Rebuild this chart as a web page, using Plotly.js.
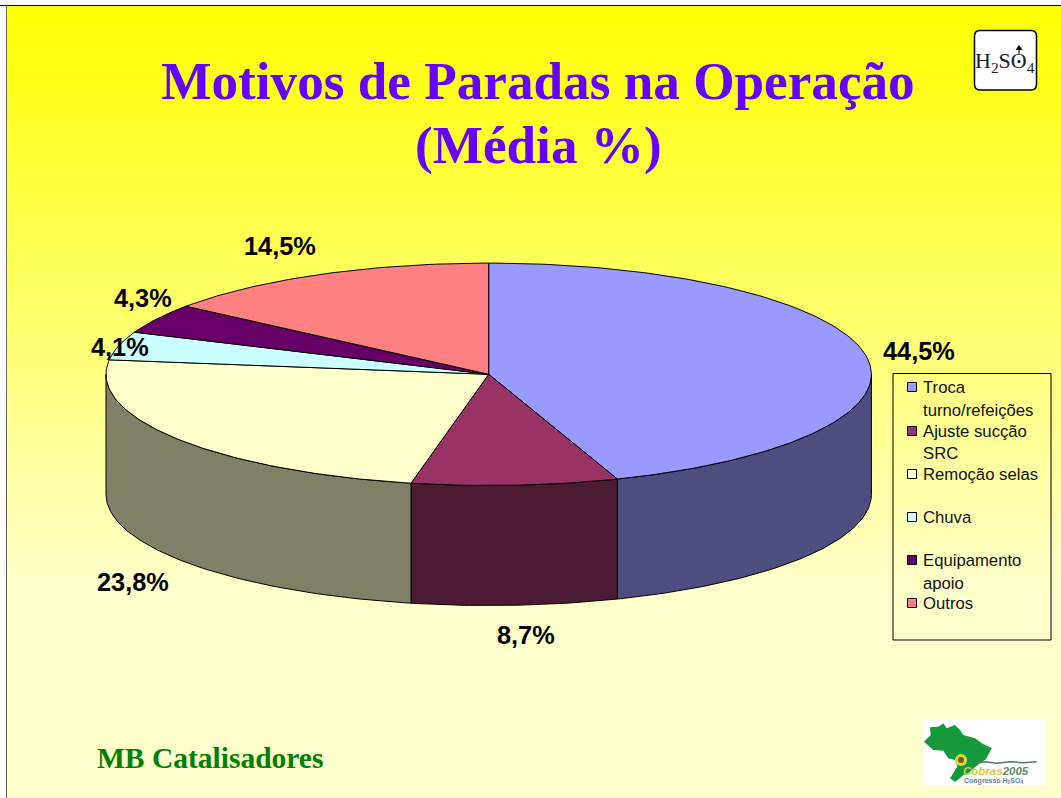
<!DOCTYPE html>
<html><head><meta charset="utf-8">
<script src="https://cdn.plot.ly/plotly-3.0.1.min.js"></script>
<style>html,body{margin:0;padding:0;background:#fff;overflow:hidden}#c{width:1061px;height:798px}</style>
</head><body><div id="c"></div>
<script>
const categories = ["Troca turno/refeições","Ajuste sucção SRC","Remoção selas","Chuva","Equipamento apoio","Outros"];
const values = [44.5,8.7,23.8,4.1,4.3,14.5];
const valueLabels = ["44,5%","8,7%","23,8%","4,1%","4,3%","14,5%"];
const topColors = ["#9999FF","#993366","#FFFFCC","#CCFFFF","#660066","#FF8080"];
const sideColors = ["#4D4D80","#4D1A33","#808066","#668080","#330033","#804040"];
const labelX = [918.5,525.5,132.5,119.5,142.5,280];
const labelY = [351,635,582,347,298,246];
const legendLines = [["Troca","turno/refeições"],["Ajuste sucção","SRC"],["Remoção selas"],["Chuva"],["Equipamento","apoio"],["Outros"]];
const legendLineY = [[387,410],[431,453],[474],[517],[560,583],[603]];
const legendMarkY = [387,431,474,517,560,603];

const cx=488.7, cy=374.3, rx=382.7, ry=111.2, depth=120;
const pt=(deg,dy)=>[cx+rx*Math.sin(deg*Math.PI/180), cy-ry*Math.cos(deg*Math.PI/180)+(dy||0)];
function arc(a,b,dy){const n=Math.max(2,Math.ceil(Math.abs(b-a)));const o=[];for(let i=0;i<=n;i++)o.push(pt(a+(b-a)*i/n,dy));return o;}
const traces=[];
traces.push({type:'scatter',mode:'none',x:[6,1062,1062,6,6],y:[5,5,799,799,5],fill:'toself',
  fillgradient:{type:'vertical',start:5,stop:590,colorscale:[[0,'#FFFF00'],[1,'#FFFFCC']]},hoverinfo:'skip',showlegend:false});
function poly(pts,fill,w){traces.push({type:'scatter',mode:'lines',x:pts.map(p=>p[0]),y:pts.map(p=>p[1]),fill:'toself',fillcolor:fill,
  line:{color:'#000',width:w===undefined?1:w},hoverinfo:'skip',showlegend:false,cliponaxis:false});}
const total=values.reduce((a,b)=>a+b,0);
let acc=0; const spans=values.map(v=>{const s=[acc,acc+v/total*360];acc=s[1];return s;});
spans.forEach((s,i)=>{const a=Math.max(s[0],90),b=Math.min(s[1],270);if(b<=a)return;
  const t=arc(a,b,0),bt=arc(b,a,depth);const p=t.concat(bt);p.push(t[0]);poly(p,sideColors[i]);});
spans.forEach((s,i)=>{const p=[[cx,cy]].concat(arc(s[0],s[1],0));p.push([cx,cy]);poly(p,topColors[i]);});
traces.push({type:'scatter',mode:'markers',x:legendMarkY.map(()=>912),y:legendMarkY,
  marker:{symbol:'square',size:9,color:topColors,line:{color:'#000',width:1}},hoverinfo:'skip',showlegend:false});

const annotations=[];
const txt=(x,y,text,size,color,family,anchor)=>annotations.push({x,y,xref:'x',yref:'y',text,showarrow:false,
  font:{size,color,family},xanchor:anchor||'center',yanchor:'middle',borderpad:0,borderwidth:0});
const SANS='"Liberation Sans",Arial,sans-serif', SERIF='"Liberation Serif","Times New Roman",serif';
valueLabels.forEach((t,i)=>txt(labelX[i],labelY[i],'<b>'+t+'</b>',25.3,'#000',SANS));
legendLines.forEach((ls,i)=>ls.forEach((l,j)=>txt(923,legendLineY[i][j],l,16.7,'#111',SANS,'left')));
txt(538,145,'<b>(Média %)</b>',53.2,'#6600FF',SERIF);
txt(97,758,'<b>MB Catalisadores</b>',29.5,'#008000',SERIF,'left');
txt(1005,62,'H<sub>2</sub>SO<sub>4</sub>',22,'#222',SERIF);
txt(996,771,'<b><i><span style="color:#D6C83A">Cobras</span><span style="color:#5F8A6B">2005</span></i></b>',11.5,'#5F8A6B',SANS);
txt(993,781,'<b>Congresso H<sub>2</sub>SO<sub>4</sub></b>',7,'#5F7FA8',SANS);

const m=(zx,zy)=>(910+zx/3).toFixed(1)+','+(710+zy/3).toFixed(1);
const brazilZ=[[42,95],[62,75],[60,52],[85,50],[100,40],[110,55],[135,45],[150,60],[160,75],[195,85],[215,100],[245,115],[228,148],[210,160],[195,172],[175,190],[160,195],[150,205],[135,215],[120,205],[130,190],[142,170],[135,150],[115,145],[100,122],[70,120]];
const brazil='M'+brazilZ.map(p=>m(p[0],p[1])).join('L')+'Z';
const waveZ=[[195,160],[225,155],[260,160],[300,155],[340,158],[380,155]];
const wave='M'+waveZ.map(p=>m(p[0],p[1])).join('L');
const shapes=[
 {type:'line',x0:0,x1:1061,y0:5.5,y1:5.5,line:{color:'#000',width:1}},
 {type:'line',x0:6.5,x1:6.5,y0:5,y1:798,line:{color:'#666',width:1}},
 {type:'rect',x0:893,x1:1051,y0:373.5,y1:640,line:{color:'#000',width:1},fillcolor:'rgba(0,0,0,0)'},
 {type:'path',path:'M980,30.5 L1031,30.5 Q1036.5,30.5 1036.5,36 L1036.5,84 Q1036.5,90 1031,90 L980,90 Q974.5,90 974.5,84 L974.5,36 Q974.5,30.5 980,30.5 Z',fillcolor:'#fff',line:{color:'#000',width:1.5}},
 {type:'circle',x0:1017.5,x1:1020.5,y0:60,y1:63,fillcolor:'#000',line:{width:0}},
 {type:'line',x0:1019,x1:1019,y0:48,y1:54,line:{color:'#000',width:1}},
 {type:'path',path:'M1019,45 L1022.5,50 L1015.5,50 Z',fillcolor:'#000',line:{width:0}},
 {type:'rect',x0:923,x1:1046,y0:720,y1:785,fillcolor:'#fff',line:{width:0}},
 {type:'path',path:brazil,fillcolor:'#149A3C',line:{color:'#149A3C',width:0}},
 {type:'circle',x0:955,x1:967,y0:754,y1:766,fillcolor:'#D9D82E',line:{width:0}},
 {type:'circle',x0:958,x1:964,y0:757,y1:763,fillcolor:'#7A5A20',line:{width:0}},
 {type:'path',path:wave,line:{color:'#4F7A5C',width:1.5}}
];
const layout={width:1061,height:798,margin:{l:0,r:0,t:0,b:0,pad:0},paper_bgcolor:'#fff',plot_bgcolor:'rgba(0,0,0,0)',showlegend:false,
  xaxis:{range:[0,1061],visible:false,fixedrange:true},
  yaxis:{range:[798,0],visible:false,fixedrange:true},
  title:{text:'<b>Motivos de Paradas na Operação</b>',font:{family:SERIF,size:53.2,color:'#6600FF'},x:538/1061,xanchor:'center',xref:'paper',y:1-80/798,yanchor:'middle',yref:'paper'},
  annotations,shapes};
Plotly.newPlot('c',traces,layout,{displayModeBar:false,staticPlot:true});
</script></body></html>
